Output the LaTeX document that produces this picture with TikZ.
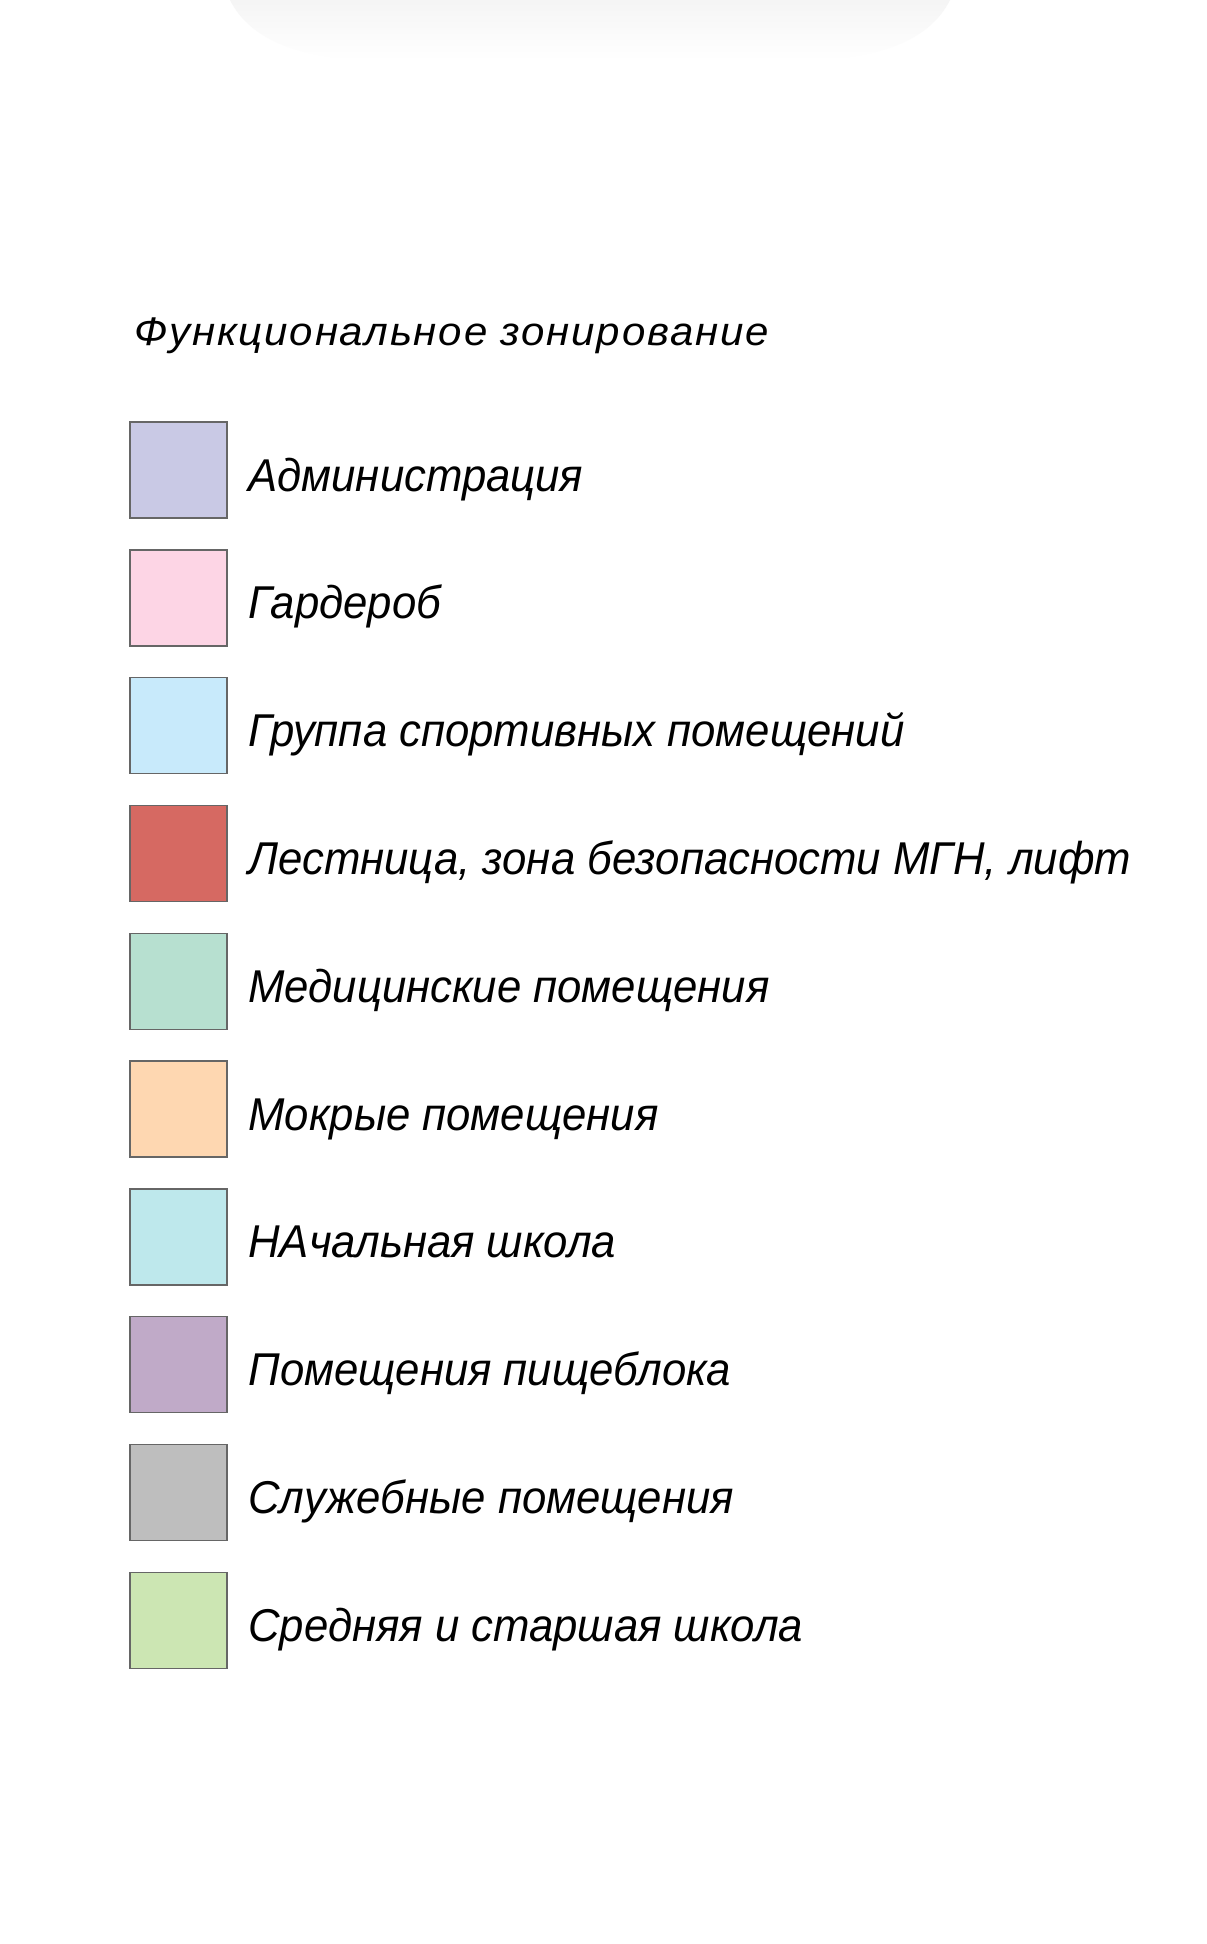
\documentclass[tikz,border=0pt]{standalone}
\usepackage{fontspec}
\newfontfamily\zonefont[FakeStretch=0.95]{Liberation Sans}
\newfontfamily\headfont[FakeStretch=1.05,LetterSpace=4.5]{Liberation Sans}

\definecolor{zadmin}{HTML}{C9C9E5}
\definecolor{zwardrobe}{HTML}{FDD5E5}
\definecolor{zsport}{HTML}{C8EAFB}
\definecolor{zstair}{HTML}{D66962}
\definecolor{zmed}{HTML}{B7E0D0}
\definecolor{zwet}{HTML}{FED7B1}
\definecolor{zprimary}{HTML}{BEE8EC}
\definecolor{zfood}{HTML}{C0AAC8}
\definecolor{zservice}{HTML}{BEBEBE}
\definecolor{zsenior}{HTML}{CCE6B3}

\tikzset{
  swatch/.style={draw=black!60,line width=0.7pt,inner sep=0pt,
    minimum width=48.5pt,minimum height=48pt},
  zonelabel/.style={anchor=base west,inner sep=0pt,
    font=\zonefont\itshape\fontsize{23}{27}\selectfont},
  headlabel/.style={anchor=base west,inner sep=0pt,
    font=\headfont\itshape\fontsize{20}{24}\selectfont}
}

\begin{document}
\begin{tikzpicture}[x=0.5pt,y=-0.5pt]
    \useasboundingbox[fill=white] (0,0) rectangle (1206,1944);
    \shade[top color=black!4,bottom color=white] (230,0) -- (950,0)
        .. controls (930,40) and (880,60) .. (800,60) -- (380,60)
        .. controls (300,60) and (250,40) .. (230,0) -- cycle;
    \node[headlabel] (head) at (134,345) {Функциональное зонирование};
    \foreach \c/\t [count=\i] in {zadmin/Администрация,zwardrobe/Гардероб,
        zsport/Группа спортивных помещений,
        zstair/{Лестница, зона безопасности МГН, лифт},
        zmed/Медицинские помещения,zwet/Мокрые помещения,
        zprimary/НАчальная школа,zfood/Помещения пищеблока,
        zservice/Служебные помещения,zsenior/Средняя и старшая школа}
    {
       \node[swatch,fill=\c] (sw\i) at (178.5,{470+127.8*(\i-1)}) {};
       \node[zonelabel] (lb\i) at (248,{491+127.8*(\i-1)}) {\t};
    }
\end{tikzpicture}
\end{document}
